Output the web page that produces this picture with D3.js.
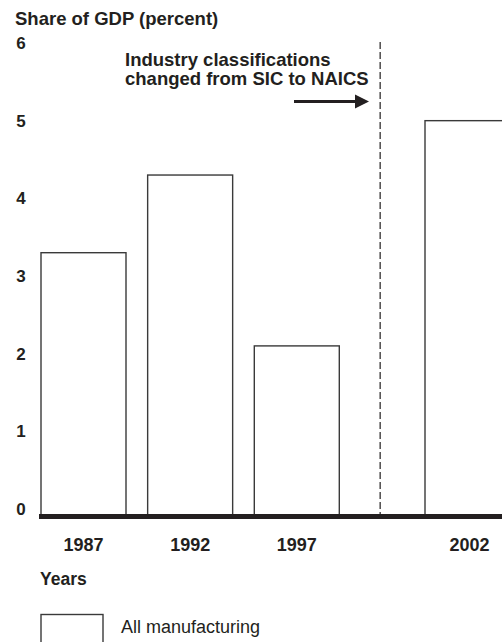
<!DOCTYPE html>
<html>
<head>
<meta charset="utf-8">
<script src="https://cdn.jsdelivr.net/npm/d3@7"></script>
<style>
  html, body { margin: 0; padding: 0; background: #fff; }
  svg { display: block; }
  text { font-family: "Liberation Sans", Arial, Helvetica, sans-serif; fill: #231f20; }
</style>
</head>
<body>
<svg id="chart" width="502" height="642"></svg>
<script>
// ---- data ----
const years = [1987, 1992, 1997, 2002];
const shares = [3.3, 4.3, 2.1, 5.0];
const yTicks = [0, 1, 2, 3, 4, 5, 6];
const yTitle = "Share of GDP (percent)";
const xTitle = "Years";
const legendLabel = "All manufacturing";
const noteLines = ["Industry classifications", "changed from SIC to NAICS"];

// ---- layout ----
const svg = d3.select("#chart");
const barW = 85;
const baseY = 516.5;

const x = d3.scaleLinear()
  .domain([1987, 1997, 2002])
  .range([41, 254.3, 425]);

const y = d3.scaleLinear()
  .domain([0, 6])
  .range([509, 43]);

// title
svg.append("text")
  .attr("x", 15).attr("y", 25)
  .style("font-size", "18.5px").style("font-weight", "bold")
  .text(yTitle);

// y tick labels
svg.append("g").selectAll("text").data(yTicks).join("text")
  .attr("x", 21).attr("y", d => y(d))
  .attr("dy", "0.36em")
  .attr("text-anchor", "middle")
  .style("font-size", "17px").style("font-weight", "bold")
  .text(d => d);

// bars
svg.append("g").selectAll("rect").data(years).join("rect")
  .attr("x", d => x(d))
  .attr("y", (d, i) => y(shares[i]))
  .attr("width", barW)
  .attr("height", (d, i) => baseY - y(shares[i]))
  .attr("fill", "#fff")
  .attr("stroke", "#3a3a3a")
  .attr("stroke-width", 1.4);

// dashed break line
const breakX = (x(1997) + barW + x(2002)) / 2 - 2;
svg.append("line")
  .attr("x1", breakX).attr("x2", breakX)
  .attr("y1", 42).attr("y2", baseY)
  .attr("stroke", "#231f20")
  .attr("stroke-width", 1.2)
  .attr("stroke-dasharray", "7,3");

// annotation
const note = svg.append("text")
  .attr("x", 125).attr("y", 66)
  .style("font-size", "18.5px").style("font-weight", "bold");
note.selectAll("tspan").data(noteLines).join("tspan")
  .attr("x", 125)
  .attr("dy", (d, i) => i === 0 ? 0 : 18.5)
  .text(d => d);

// arrow
const arrowY = 101.5;
svg.append("line")
  .attr("x1", 294).attr("x2", 357)
  .attr("y1", arrowY).attr("y2", arrowY)
  .attr("stroke", "#231f20").attr("stroke-width", 3);
svg.append("path")
  .attr("d", d3.line()([[355, arrowY - 7], [369, arrowY], [355, arrowY + 7]]) + "Z")
  .attr("fill", "#231f20");

// baseline
svg.append("line")
  .attr("x1", 39).attr("x2", 502)
  .attr("y1", baseY).attr("y2", baseY)
  .attr("stroke", "#231f20").attr("stroke-width", 5);

// x labels
svg.append("g").selectAll("text").data(years).join("text")
  .attr("x", d => x(d) + barW / 2 + (d === 2002 ? 2 : 0))
  .attr("y", 551)
  .attr("text-anchor", "middle")
  .style("font-size", "18px").style("font-weight", "bold")
  .text(d => d);

// x title
svg.append("text")
  .attr("x", 40).attr("y", 585)
  .style("font-size", "17.5px").style("font-weight", "bold")
  .text(xTitle);

// legend
svg.append("rect")
  .attr("x", 41).attr("y", 614.5)
  .attr("width", 62).attr("height", 40)
  .attr("fill", "#fff").attr("stroke", "#3a3a3a").attr("stroke-width", 1.4);
svg.append("text")
  .attr("x", 121).attr("y", 633)
  .style("font-size", "18px")
  .text(legendLabel);
</script>
</body>
</html>
